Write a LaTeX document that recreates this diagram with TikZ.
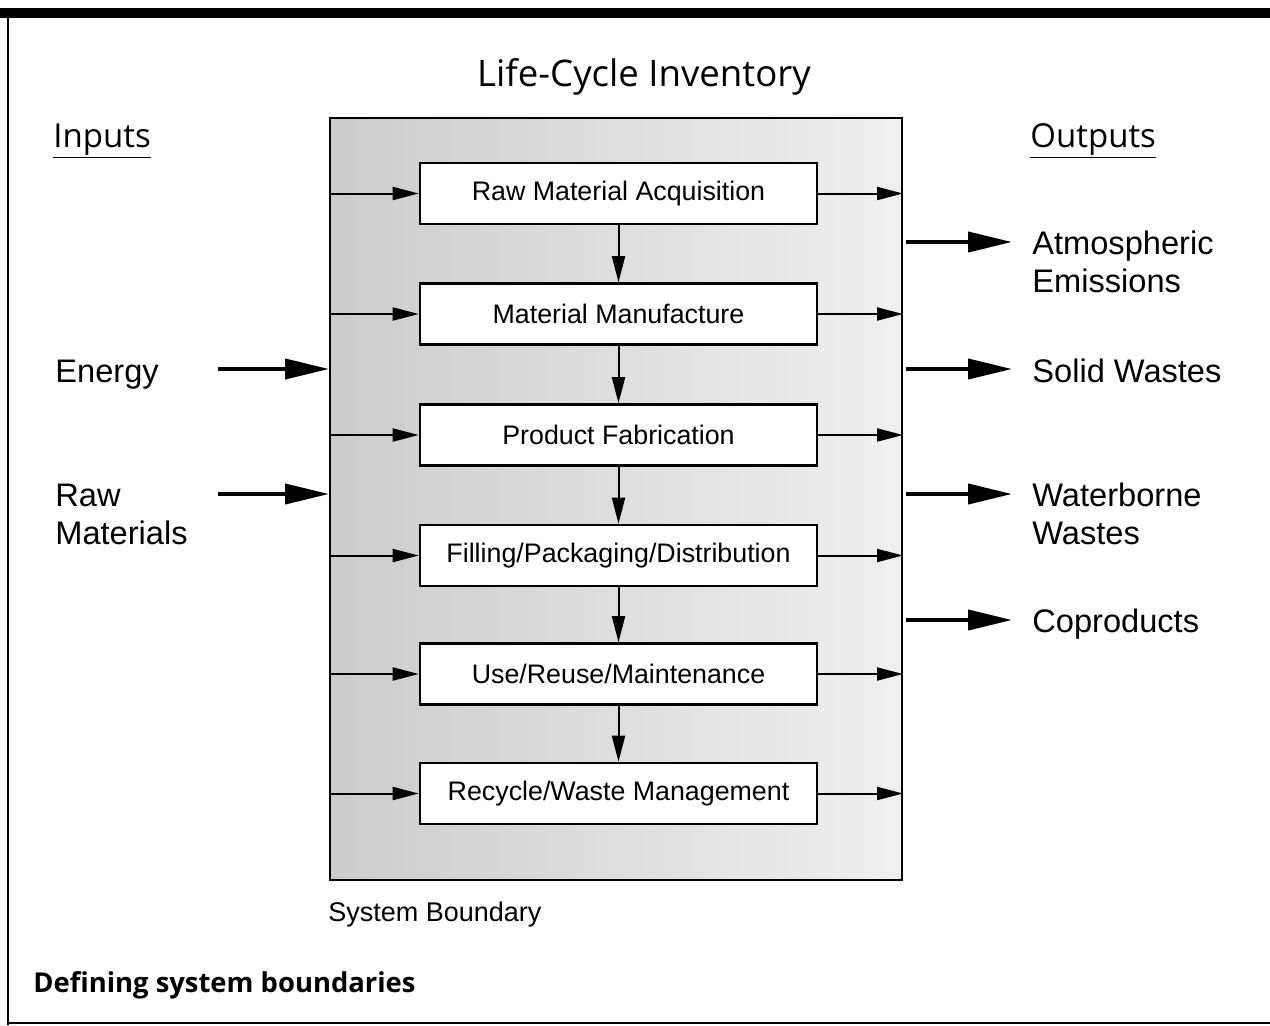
\documentclass[tikz,border=0pt]{standalone}
\usepackage{fontspec}
\setmainfont{Liberation Sans}
\newfontfamily\headfont{Open Sans}
\usetikzlibrary{arrows.meta,fit}
\begin{document}
\begin{tikzpicture}[x=0.5pt,y=-0.5pt,
  stagebox/.style={draw,line width=1.3pt,fill=white,minimum width=198.5pt,minimum height=30.5pt,inner sep=0pt,font=\fontsize{13.4}{15}\selectfont},
  smallarrow/.style={line width=1pt,-{Triangle[length=13pt,width=6.5pt]}},
  bigarrow/.style={line width=2pt,-{Triangle[length=22pt,width=10pt]}},
  bigtext/.style={anchor=base west,inner sep=0pt,font=\fontsize{16.3}{19}\selectfont},
  headtext/.style={anchor=base west,inner sep=0pt,font=\headfont\fontsize{16.5}{19}\selectfont}]
\useasboundingbox (0,0) rectangle (1270,1025);
% frame
\fill (0,8) rectangle (1270,18);
\draw[line width=0.8pt] (8,18) -- (8,1025);
\draw[line width=0.6pt] (8,1023) -- (1270,1023);
% title
\node[inner sep=0pt,font=\headfont\fontsize{18.3}{22}\selectfont,anchor=base] (title) at (644,86) {Life-Cycle Inventory};
\node[headtext] (inputs) at (53,147) {\underline{Inputs}};
\node[headtext] (outputs) at (1030,147) {\underline{Outputs}};
% system boundary
\coordinate (sbTL) at (330,118);
\coordinate (sbBR) at (902,880);
\shade[left color=black!20,right color=black!6] (sbTL) rectangle (sbBR);
\node[draw,line width=1pt,fit=(sbTL)(sbBR),inner sep=0pt] (sb) {};
% stages
\node[stagebox] (b1) at (618.5,193.5) {Raw Material Acquisition};
\node[stagebox] (b2) at (618.5,314) {Material Manufacture};
\node[stagebox] (b3) at (618.5,435) {Product Fabrication};
\node[stagebox] (b4) at (618.5,555.5) {Filling/Packaging/Distribution};
\node[stagebox] (b5) at (618.5,674) {Use/Reuse/Maintenance};
\node[stagebox] (b6) at (618.5,793.5) {Recycle/Waste Management};
\foreach \a/\b in {b1/b2,b2/b3,b3/b4,b4/b5,b5/b6}
  \draw[smallarrow] (\a) -- (\b);
\foreach \b in {b1,b2,b3,b4,b5,b6}{
  \draw[smallarrow] (\b.west -| sb.west) -- (\b.west);
  \draw[smallarrow] (\b.east) -- (\b.east -| sb.east);
}
% inputs
\node[bigtext] (energy) at (55,382) {Energy};
\node[bigtext] (raw) at (55,506) {Raw};
\node[bigtext] (mats) at (55,544) {Materials};
\coordinate (eS) at (218,369);
\coordinate (rS) at (218,494);
\draw[bigarrow] (eS) -- (eS -| sb.west);
\draw[bigarrow] (rS) -- (rS -| sb.west);
% outputs
\node[bigtext] (atm) at (1032,254) {Atmospheric};
\node[bigtext] (emis) at (1032,292) {Emissions};
\node[bigtext] (solid) at (1032,382) {Solid Wastes};
\node[bigtext] (water) at (1032,506) {Waterborne};
\node[bigtext] (wwastes) at (1032,544) {Wastes};
\node[bigtext] (copr) at (1032,632) {Coproducts};
\coordinate (o1) at (906,242);
\coordinate (o2) at (906,369);
\coordinate (o3) at (906,494);
\coordinate (o4) at (906,620);
\draw[bigarrow] (o1) -- ([xshift=-10pt]o1 -| atm.west);
\draw[bigarrow] (o2) -- ([xshift=-10pt]o2 -| solid.west);
\draw[bigarrow] (o3) -- ([xshift=-10pt]o3 -| water.west);
\draw[bigarrow] (o4) -- ([xshift=-10pt]o4 -| copr.west);
% labels
\node[anchor=base west,inner sep=0pt,font=\fontsize{13.5}{16}\selectfont] (sblabel) at (328,921) {System Boundary};
\node[anchor=base west,inner sep=0pt,font=\headfont\bfseries\fontsize{13.7}{16}\selectfont] (caption) at (33,992) {Defining system boundaries};
\end{tikzpicture}
\end{document}
